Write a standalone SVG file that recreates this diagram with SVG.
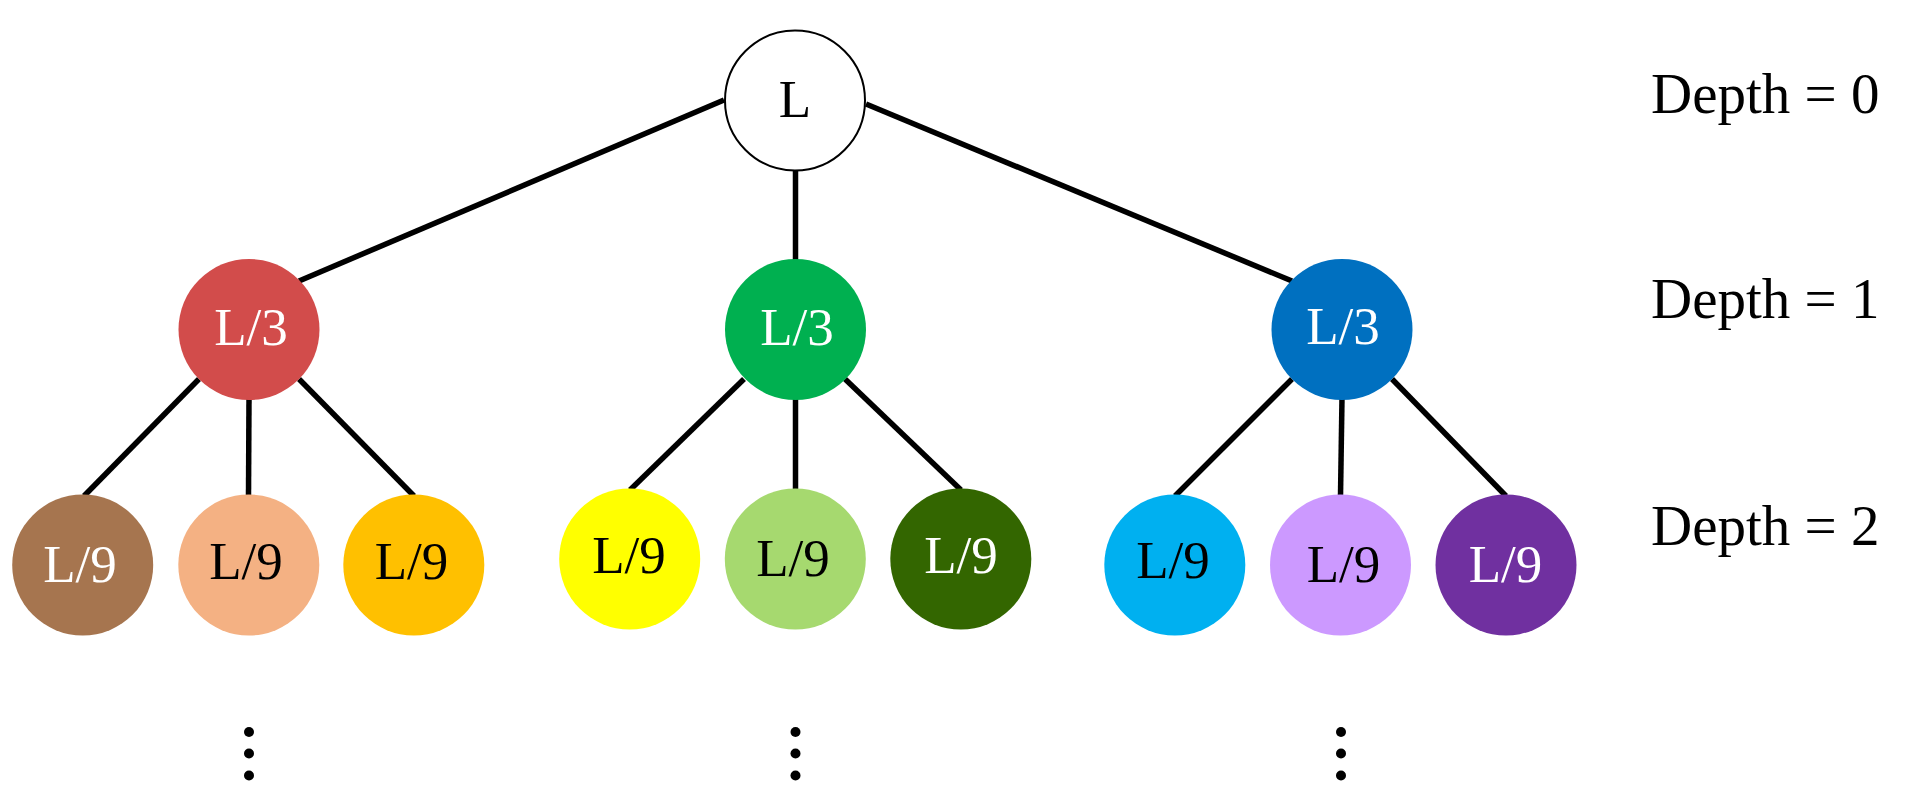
<svg xmlns="http://www.w3.org/2000/svg" width="1915" height="806" viewBox="0 0 1915 806">
<style>
.edge{stroke:#000;stroke-width:5.5;fill:none}
.lbl{font-family:"Liberation Serif","Times New Roman",serif;font-size:53px;text-anchor:middle}
.w{fill:#fff}
.k{fill:#000}
.depth{font-family:"Liberation Serif","Times New Roman",serif;font-size:57px;fill:#000}
.dot{fill:#000}
</style>
<rect width="1915" height="806" fill="#fff"/>
<g id="connectors">
<line class="edge" x1="724" y1="100" x2="299" y2="281"/>
<line class="edge" x1="795.5" y1="170" x2="795.5" y2="261"/>
<line class="edge" x1="866" y1="104" x2="1292" y2="281"/>
<line class="edge" x1="199" y1="379" x2="84" y2="496"/>
<line class="edge" x1="249" y1="398" x2="248.5" y2="496"/>
<line class="edge" x1="299" y1="379" x2="414" y2="496"/>
<line class="edge" x1="744" y1="379" x2="630" y2="490"/>
<line class="edge" x1="795.5" y1="398" x2="795.5" y2="490"/>
<line class="edge" x1="845" y1="379" x2="961" y2="490"/>
<line class="edge" x1="1292" y1="379" x2="1175" y2="496"/>
<line class="edge" x1="1342" y1="398" x2="1340.5" y2="496"/>
<line class="edge" x1="1392" y1="379" x2="1506" y2="496"/>
</g>
<g id="root">
<circle cx="795" cy="100.5" r="70" fill="#fff" stroke="#000" stroke-width="2"/>
<text class="lbl k" x="795" y="117">L</text>
</g>
<g id="d1-red">
<circle cx="249" cy="329.5" r="70.5" fill="#D24C4B"/>
<text class="lbl w" x="251" y="345">L/3</text>
</g>
<g id="d1-green">
<circle cx="795.5" cy="329.5" r="70.5" fill="#00B050"/>
<text class="lbl w" x="797" y="345">L/3</text>
</g>
<g id="d1-blue">
<circle cx="1342" cy="329.5" r="70.5" fill="#0070C0"/>
<text class="lbl w" x="1343" y="344">L/3</text>
</g>
<g id="d2-brown">
<circle cx="82.7" cy="565" r="70.5" fill="#A6754F"/>
<text class="lbl w" x="80" y="581.5">L/9</text>
</g>
<g id="d2-peach">
<circle cx="248.8" cy="565" r="70.5" fill="#F4B183"/>
<text class="lbl k" x="246" y="579">L/9</text>
</g>
<g id="d2-orange">
<circle cx="413.8" cy="565" r="70.5" fill="#FFC000"/>
<text class="lbl k" x="411.5" y="579">L/9</text>
</g>
<g id="d2-yellow">
<circle cx="629.7" cy="559" r="70.5" fill="#FFFF00"/>
<text class="lbl k" x="629" y="572.7">L/9</text>
</g>
<g id="d2-lightgreen">
<circle cx="795.3" cy="559" r="70.5" fill="#A6D96F"/>
<text class="lbl k" x="793" y="576">L/9</text>
</g>
<g id="d2-darkgreen">
<circle cx="960.8" cy="559" r="70.5" fill="#336600"/>
<text class="lbl w" x="961" y="572.7">L/9</text>
</g>
<g id="d2-cyan">
<circle cx="1174.8" cy="565" r="70.5" fill="#00B0F0"/>
<text class="lbl k" x="1173" y="578.3">L/9</text>
</g>
<g id="d2-lavender">
<circle cx="1340.5" cy="565" r="70.5" fill="#CC99FF"/>
<text class="lbl k" x="1343.5" y="581.7">L/9</text>
</g>
<g id="d2-purple">
<circle cx="1506" cy="565" r="70.5" fill="#7030A0"/>
<text class="lbl w" x="1505.5" y="581.7">L/9</text>
</g>
<g id="depth-labels">
<text class="depth" x="1651" y="113">Depth = 0</text>
<text class="depth" x="1651" y="318">Depth = 1</text>
<text class="depth" x="1651" y="545">Depth = 2</text>
</g>
<g id="ellipses">
<circle class="dot" cx="249" cy="732" r="5"/>
<circle class="dot" cx="249" cy="753.5" r="5"/>
<circle class="dot" cx="249" cy="775.5" r="5"/>
<circle class="dot" cx="795.5" cy="732" r="5"/>
<circle class="dot" cx="795.5" cy="753.5" r="5"/>
<circle class="dot" cx="795.5" cy="775.5" r="5"/>
<circle class="dot" cx="1341" cy="732" r="5"/>
<circle class="dot" cx="1341" cy="753.5" r="5"/>
<circle class="dot" cx="1341" cy="775.5" r="5"/>
</g>
</svg>
